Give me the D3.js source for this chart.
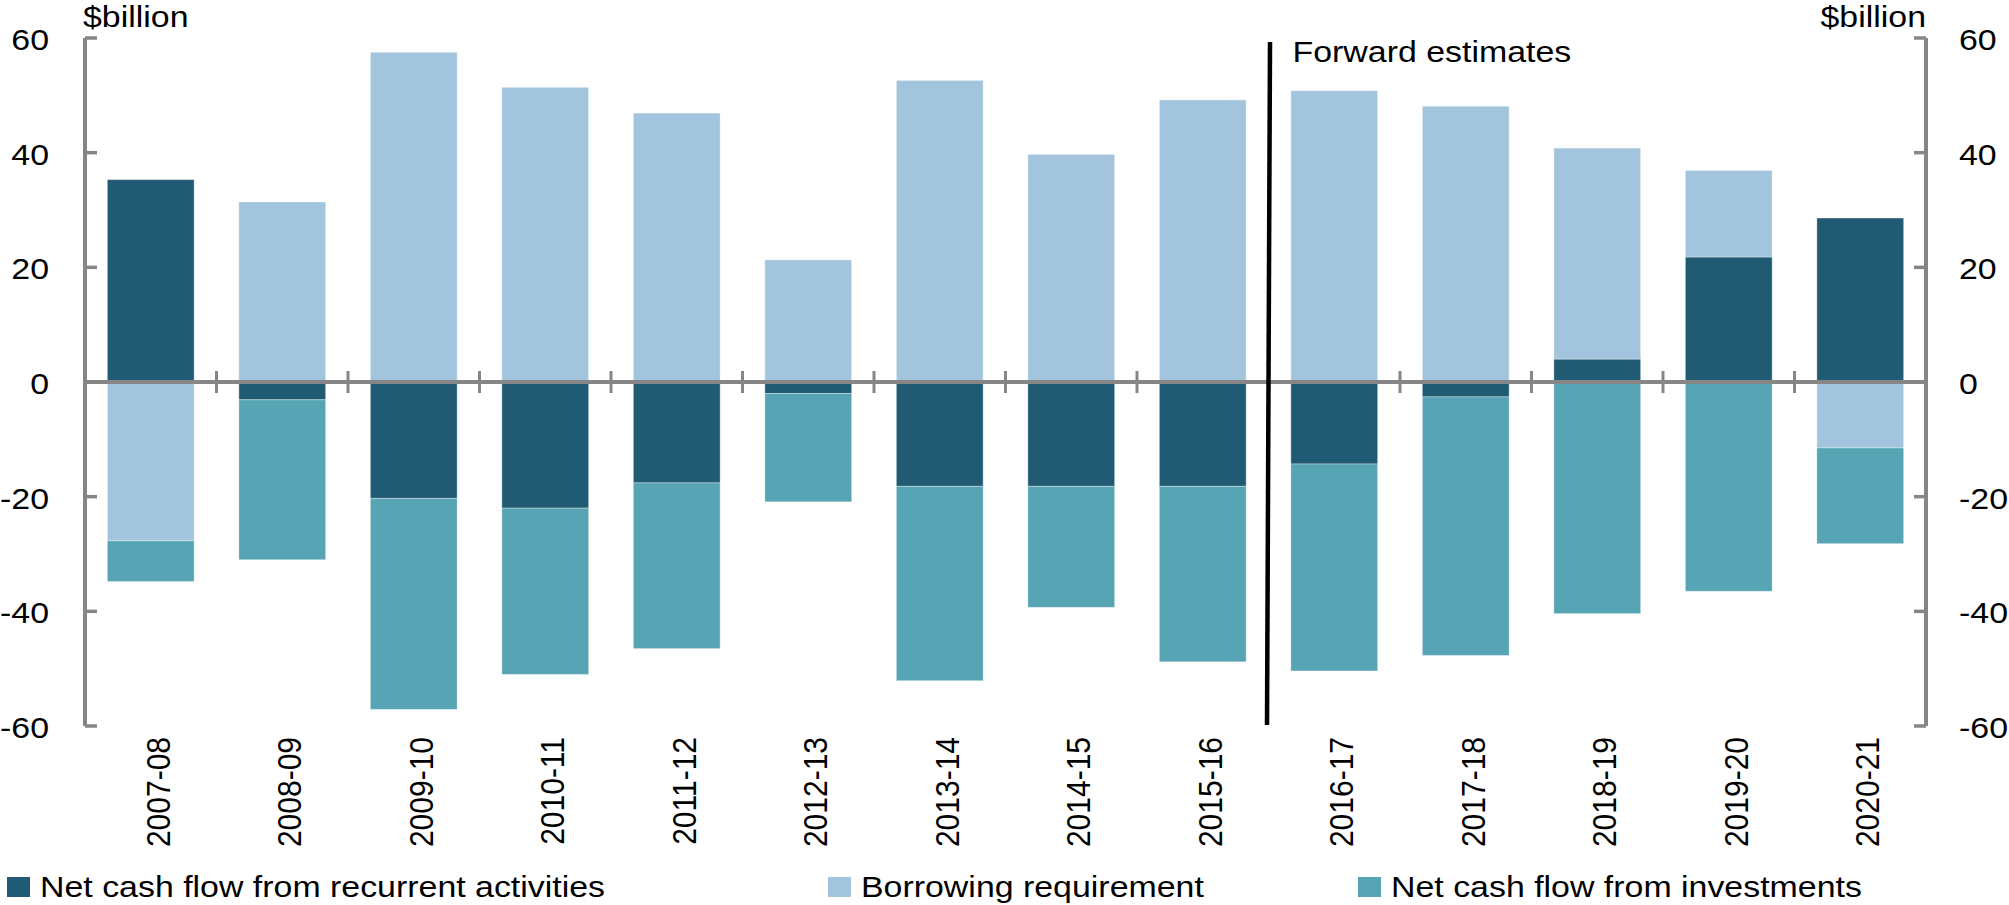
<!DOCTYPE html>
<html>
<head>
<meta charset="utf-8">
<script src="https://cdn.jsdelivr.net/npm/d3@7"></script>
<style>
  html, body { margin: 0; padding: 0; background: #fff; }
  svg text { font-family: "Liberation Sans", Arial, Helvetica, sans-serif; fill: #000; }
</style>
</head>
<body>
<svg id="chart" width="2009" height="905"></svg>
<script>
// financial years
const years = ['2007-08', '2008-09', '2009-10', '2010-11', '2011-12', '2012-13', '2013-14',
  '2014-15', '2015-16', '2016-17', '2017-18', '2018-19', '2019-20', '2020-21'];

// $billion
const recurrent = [35.3, -3.1, -20.3, -22.0, -17.6, -2.0, -18.2, -18.2, -18.2, -14.3, -2.6, 4.0, 21.8, 28.6];
const borrowing = [-27.7, 31.4, 57.5, 51.4, 46.9, 21.3, 52.6, 39.7, 49.2, 50.8, 48.1, 36.8, 15.1, -11.5];
const investments = [-7.1, -27.9, -36.8, -29.0, -28.9, -18.9, -33.9, -21.1, -30.6, -36.1, -45.1, -40.4, -36.5, -16.7];

const seriesNames = ['Net cash flow from recurrent activities', 'Borrowing requirement', 'Net cash flow from investments'];
const seriesColors = ['#215a73', '#a2c4dc', '#57a4b4'];
const yTicks = [-60, -40, -20, 0, 20, 40, 60];
const forecastFrom = '2016-17';

const plotLeft = 85, plotRight = 1926, plotTop = 38, plotBottom = 726;
const FS = 30;        // font size
const SX = 1.13;      // picture is stretched horizontally
const axisGrey = '#868686';

const svg = d3.select('#chart');

const x = d3.scaleBand().domain(years).range([plotLeft, plotRight]).paddingInner(0.34).paddingOuter(0.17);
const y = d3.scaleLinear().domain([-60, 60]).range([plotBottom, plotTop]);

const rows = years.map((yr, i) => ({ year: yr, r: recurrent[i], b: borrowing[i], v: investments[i] }));
const stack = d3.stack().keys(['r', 'b', 'v']).offset(d3.stackOffsetDiverging);
const layers = stack(rows);

function label(g, px, py, str, anchor, rot) {
  let tr = 'translate(' + px + ',' + py + ') scale(' + SX + ',1)';
  if (rot) tr += ' rotate(' + rot + ')';
  return g.append('text')
    .attr('transform', tr)
    .attr('text-anchor', anchor)
    .style('font-size', FS + 'px')
    .text(str);
}

// bars
svg.append('g').selectAll('g')
  .data(layers)
  .join('g')
  .attr('fill', (d, i) => seriesColors[i])
  .selectAll('rect')
  .data(d => d)
  .join('rect')
  .attr('x', d => x(d.data.year))
  .attr('width', x.bandwidth())
  .attr('y', d => y(Math.max(d[0], d[1])))
  .attr('height', d => Math.abs(y(d[0]) - y(d[1])))
  .attr('stroke', 'rgba(255,255,255,0.35)')
  .attr('stroke-width', 1);

// left axis
const axL = svg.append('g').attr('transform', 'translate(' + plotLeft + ',0)');
axL.append('line').attr('y1', y(60)).attr('y2', y(-60)).attr('stroke', axisGrey).attr('stroke-width', 4);
axL.selectAll('.tk').data(yTicks).join('line')
  .attr('x1', 0).attr('x2', 12)
  .attr('y1', d => y(d)).attr('y2', d => y(d))
  .attr('stroke', axisGrey).attr('stroke-width', 3.5);
yTicks.forEach(t => label(svg, 49, y(t) + 12, String(t), 'end'));

// right axis
const axR = svg.append('g').attr('transform', 'translate(' + plotRight + ',0)');
axR.append('line').attr('y1', y(60)).attr('y2', y(-60)).attr('stroke', axisGrey).attr('stroke-width', 4);
axR.selectAll('.tk').data(yTicks).join('line')
  .attr('x1', 0).attr('x2', -12)
  .attr('y1', d => y(d)).attr('y2', d => y(d))
  .attr('stroke', axisGrey).attr('stroke-width', 3.5);
yTicks.forEach(t => label(svg, 1959, y(t) + 12, String(t), 'start'));

label(svg, 83, 27, '$billion', 'start');
label(svg, 1926, 27, '$billion', 'end');

// zero line with category separators
svg.append('line')
  .attr('x1', plotLeft).attr('x2', plotRight)
  .attr('y1', y(0)).attr('y2', y(0))
  .attr('stroke', axisGrey).attr('stroke-width', 4);
const step = x.step();
svg.append('g').selectAll('line')
  .data(years.slice(1))
  .join('line')
  .attr('x1', d => x(d) + x.bandwidth() / 2 - step / 2)
  .attr('x2', d => x(d) + x.bandwidth() / 2 - step / 2)
  .attr('y1', y(0) - 11).attr('y2', y(0) + 11)
  .attr('stroke', axisGrey).attr('stroke-width', 3);

// category labels
years.forEach(yr => {
  label(svg, x(yr) + x.bandwidth() / 2 + 19, 737, yr, 'end', -90);
});

// forward estimates divider
const fx = x(forecastFrom) + x.bandwidth() / 2 - step / 2;
svg.append('line')
  .attr('x1', fx + 1.5).attr('x2', fx - 1.5)
  .attr('y1', 42).attr('y2', 725)
  .attr('stroke', '#000').attr('stroke-width', 4.5);
label(svg, fx + 24, 62, 'Forward estimates', 'start');

// legend
const legendX = [7, 828, 1358];
const lg = svg.append('g');
seriesNames.forEach((name, i) => {
  lg.append('rect')
    .attr('x', legendX[i]).attr('y', 877)
    .attr('width', 23).attr('height', 20)
    .attr('fill', seriesColors[i]);
  label(lg, legendX[i] + 33, 897, name, 'start');
});
</script>
</body>
</html>
